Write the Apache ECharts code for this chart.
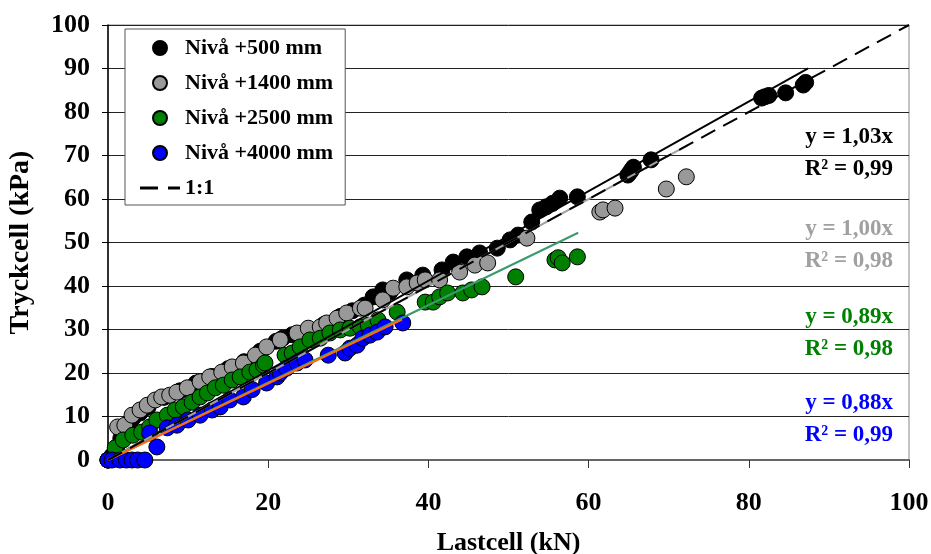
<!DOCTYPE html>
<html>
<head>
<meta charset="utf-8">
<script src="https://cdn.jsdelivr.net/npm/echarts@6/dist/echarts.min.js"></script>
<style>
html,body{margin:0;padding:0;background:#fff;}
#chart{width:931px;height:554px;}
</style>
</head>
<body>
<div id="chart"></div>
<script>
// ---- data ----
var seriesNames = ['Nivå +500 mm', 'Nivå +1400 mm', 'Nivå +2500 mm', 'Nivå +4000 mm'];
var seriesColors = ['#000000', '#999999', '#008000', '#0000ff'];

var niva500 = [[0,0],[0.5,1],[1.1,3],[1.6,5],[2.1,7.2],[2.6,8.2],[3.1,9.6],[4,10.8],[5,12.1],[7,14.4],[9,15.9],[11,17.7],[13,19.2],[15,21],[17,22.6],[19,25],[21,27.3],[21.8,28],[23,28.8],[25,30],[27,31.2],[29,33],[30.5,34.3],[32,35.6],[33.1,37.5],[34.3,39.1],[35.2,38.6],[37.3,41.4],[39.3,42.5],[41.7,43.7],[43.1,45.5],[44.8,46.7],[46.4,47.6],[48.6,48.7],[50.2,50.6],[51.2,51.7],[52.9,54.7],[53.9,57.5],[54.7,58.2],[55.5,59],[56.4,60.2],[58.6,60.5],[64.9,65.5],[65.2,66.2],[65.4,66.8],[65.6,67.3],[67.8,69],[81.6,83.2],[82,83.5],[82.5,83.8],[84.6,84.4],[86.8,86.2],[87.1,86.8]];

var niva1400 = [[0,0],[1.2,7.6],[2.1,8],[3,10.3],[4,11.5],[4.9,12.6],[5.9,13.8],[6.7,14.5],[7.7,14.9],[8.6,15.6],[9.9,16.6],[11.5,18],[12.7,19.1],[14.2,20.2],[15.5,21.4],[16.9,22.3],[18.4,24.1],[19.8,26],[21.5,27.6],[23.6,29.2],[25,30.3],[26.5,30.6],[27.3,31.5],[28.6,32.6],[29.8,33.8],[31.5,34.9],[32.1,34.9],[34.3,36.8],[35.6,39.5],[37.3,39.8],[38.6,40.7],[39.6,41.4],[41.4,41.4],[43.9,43.2],[45.8,44.8],[47.4,45.3],[52.3,51],[61.4,57],[61.8,57.5],[63.3,57.9],[69.7,62.3],[72.2,65.1]];

var niva2500 = [[0,0],[0.9,2.8],[1.9,4.6],[3.1,5.7],[4.2,6.4],[5.2,7.6],[6.1,9.2],[7.4,10.3],[8.4,11.5],[9.4,12.2],[10.5,13.3],[11.5,14.5],[12.4,15.4],[13.4,16.6],[14.4,17.2],[15.5,18.4],[16.5,19.1],[17.7,20.2],[18.6,20.7],[19.4,21.8],[19.6,22.3],[22.1,24.1],[23,24.6],[24,26],[25.2,27.6],[26.5,28],[27.7,29.2],[29,29.9],[30.2,30.3],[31.5,30.6],[32.5,31],[33.7,32.2],[36.1,34],[39.6,36.3],[40.6,36.3],[41.4,37.5],[42.4,38.4],[44.3,38.4],[45.4,39.1],[46.7,39.8],[50.9,42.1],[55.8,46],[56.2,46.5],[56.7,45.3],[58.6,46.7]];

var niva4000 = [[0,0],[0.5,0],[1.5,0],[2.3,0],[3,0],[3.7,0],[4.6,0],[6.1,3],[5.2,6.2],[7.4,7.4],[8.6,8],[10,9.2],[11.5,10.3],[13,11.5],[14,12.2],[15.2,13.8],[16.9,14.5],[18,16.2],[19.8,17.7],[21.1,19.1],[21.5,20],[22.3,21.1],[23.6,22.3],[24.6,23],[27.5,24.1],[29.6,24.6],[30.2,25.7],[31.1,26.4],[31.8,28],[32.7,28.7],[33.6,29.4],[34.6,30.6],[36.8,31.5]];

// trend lines y = k x, drawn from 0 to xEnd
var trendSlopes = [1.03, 1.00, 0.89, 0.88];
var trendXEnd = [87.4, 72.4, 58.7, 36.7];
var trendColors = ['#000000', '#a0a0a0', '#3a9a6a', '#ff6a10'];
var eqTexts = ['y = 1,03x', 'y = 1,00x', 'y = 0,89x', 'y = 0,88x'];
var r2Texts = ['R² = 0,99', 'R² = 0,98', 'R² = 0,98', 'R² = 0,99'];
var eqColors = ['#000000', '#a0a0a0', '#008000', '#0000ff'];
var oneToOne = [[0,0],[100,100]];

var FONT = '"Liberation Serif","Times New Roman",serif';

var chart = echarts.init(document.getElementById('chart'), null, {renderer:'canvas'});

var pointSets = [niva500, niva1400, niva2500, niva4000];
var series = [];
pointSets.forEach(function(d, i){
  series.push({
    name: seriesNames[i], type:'scatter', data:d, symbol:'circle', symbolSize:16,
    itemStyle:{color:seriesColors[i], borderColor:'#000', borderWidth:1, opacity:1},
    z: 2
  });
});
trendSlopes.forEach(function(k, i){
  series.push({
    name:'trend'+i, type:'line', data:[[0,0],[trendXEnd[i], k*trendXEnd[i]]],
    symbol:'none', lineStyle:{color:trendColors[i], width:2}, z:3, silent:true
  });
});
series.push({
  name:'1:1', type:'line', data:oneToOne, symbol:'none',
  itemStyle:{color:'#000'},
  lineStyle:{color:'#000', width:2, type:[16,9]}, z:3
});

var graphics = [];
var eqY = [138, 230, 318, 404];
eqTexts.forEach(function(t, i){
  graphics.push({type:'text', right: 931-893, top: eqY[i]-12,
    style:{text:t, fill:eqColors[i], font:'bold 23px '+FONT, textAlign:'right'}});
  graphics.push({type:'text', right: 931-893, top: eqY[i]+20,
    style:{text:r2Texts[i], fill:eqColors[i], font:'bold 23px '+FONT, textAlign:'right'}});
});

chart.setOption({
  animation:false,
  backgroundColor:'#fff',
  grid:{left:108, right:22, top:25, bottom:94, show:true, borderColor:'#888', borderWidth:1,
        containLabel:false, outerBoundsMode:'none'},
  legend:{
    left:125, top:29, orient:'vertical',
    data:[
      {name:seriesNames[0]},{name:seriesNames[1]},{name:seriesNames[2]},{name:seriesNames[3]},
      {name:'1:1', icon:'path://M0,0h18v3h-18zM28,0h12v3h-12z', itemStyle:{color:'#000'}}
    ],
    itemWidth:40, itemHeight:14, itemGap:13,
    padding:[8,12,6,15],
    backgroundColor:'#fff', borderColor:'#555', borderWidth:1,
    textStyle:{fontFamily:FONT, fontWeight:'bold', fontSize:22, color:'#000'}
  },
  xAxis:{
    type:'value', min:0, max:100, interval:20,
    name:'Lastcell (kN)', nameLocation:'middle', nameGap:70,
    nameTextStyle:{fontFamily:FONT, fontWeight:'bold', fontSize:26, color:'#000'},
    axisLine:{show:true, onZero:false, lineStyle:{color:'#666', width:2}},
    axisTick:{show:true, inside:false, length:8, lineStyle:{color:'#333'}},
    axisLabel:{fontFamily:FONT, fontWeight:'bold', fontSize:26, color:'#000', margin:30},
    splitLine:{show:false}
  },
  yAxis:{
    type:'value', min:0, max:100, interval:10,
    name:'Tryckcell (kPa)', nameLocation:'middle', nameGap:73, nameRotate:90,
    nameTextStyle:{fontFamily:FONT, fontWeight:'bold', fontSize:28, color:'#000'},
    axisLine:{show:true, onZero:false, lineStyle:{color:'#000', width:1.5}},
    axisTick:{show:true, inside:false, length:6, lineStyle:{color:'#000'}},
    axisLabel:{fontFamily:FONT, fontWeight:'bold', fontSize:26, color:'#000', margin:18},
    splitLine:{show:true, lineStyle:{color:'#222', width:1}}
  },
  series: series,
  graphic: graphics
});
</script>
</body>
</html>
